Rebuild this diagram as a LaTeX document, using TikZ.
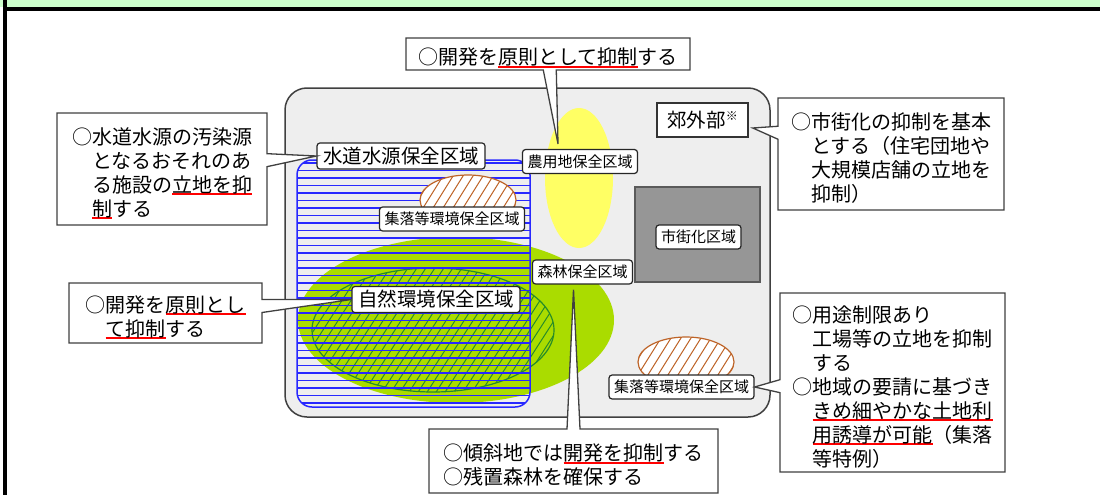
\documentclass[tikz,border=0pt]{standalone}
\usepackage{fontspec}
\setmainfont{Noto Sans CJK JP}
\usetikzlibrary{shapes.callouts, calc}
\definecolor{bandgreen}{RGB}{204,255,204}
\definecolor{areagray}{RGB}{238,238,238}
\definecolor{areaborder}{RGB}{64,64,64}
\definecolor{forestgreen}{RGB}{170,220,0}
\definecolor{naturegreen}{RGB}{40,140,40}
\definecolor{waterblue}{RGB}{40,40,255}
\definecolor{farmyellow}{RGB}{255,255,100}
\definecolor{villagebrown}{RGB}{190,100,40}
\definecolor{citygray}{RGB}{150,150,150}
\definecolor{cityborder}{RGB}{90,90,90}
\newcommand\bigjp{\fontsize{19.5}{24}\selectfont}
\newcommand\smalljp{\fontsize{15}{18}\selectfont}
\newcommand\notejp{\fontsize{20}{24}\selectfont}
\newsavebox\ulbox
\newcommand\redline[1]{\sbox\ulbox{#1}\rlap{\color{red}\rule[-3pt]{\wd\ulbox}{2pt}}\usebox\ulbox}
\newcommand\notestrut{\rule{0pt}{25pt}}
\tikzset{
  zone/.style={draw=black!85, fill=white, rounded corners=3pt, line width=1.2pt},
  bigzone/.style={zone, font=\bigjp, inner xsep=6pt, inner ysep=4pt},
  smallzone/.style={zone, font=\smalljp, inner xsep=5pt, inner ysep=5pt},
  note/.style={rectangle callout, draw=black!75, fill=white, line width=1.3pt,
    callout pointer width=13pt, align=left, font=\notejp, inner sep=0pt},
}
\begin{document}
\begin{tikzpicture}[x=1pt, y=-1pt]
    \useasboundingbox (0,0) rectangle (1100,495);
    % frame
    \fill[bandgreen] (0,0) rectangle (1100,7);
    \draw[line width=4pt] (3,9) -- (1100,9);
    \draw[line width=4pt] (5,0) -- (5,495);
    
    % suburb area
    \draw[areaborder, fill=areagray, line width=1.5pt, rounded corners=22pt] (285,88) rectangle (770,417);
    
    % forest and nature zones
    \fill[forestgreen] (456,320) ellipse (158 and 83);
    \begin{scope}
        \clip (433,330) ellipse (121 and 62);
        \foreach \hx in {-200,-191,...,200}
            \draw[naturegreen, line width=1pt] (433+\hx-45,400) -- ++(90,-140);
    \end{scope}
    \draw[naturegreen, line width=1.2pt] (433,330) ellipse (121 and 62);
    
    % water source zone
    \begin{scope}
        \clip[rounded corners=15pt] (297,160) rectangle (530,407);
        \foreach \yy in {163,170.5,...,407}
            \draw[waterblue, line width=1.1pt] (297,\yy) -- (530,\yy);
    \end{scope}
    \draw[waterblue, line width=1.5pt, rounded corners=15pt] (297,160) rectangle (530,407);
    
    % village zones
    \foreach \cx/\cy in {468/200, 686/362} {
        \fill[white] (\cx,\cy) ellipse (48 and 25);
        \begin{scope}
            \clip (\cx,\cy) ellipse (48 and 25);
            \foreach \hx in {-100,-90,...,100}
                \draw[villagebrown, line width=1pt] (\cx+\hx-25,\cy+40) -- ++(50,-80);
        \end{scope}
        \draw[villagebrown, line width=1.2pt] (\cx,\cy) ellipse (48 and 25);
    }
    
    % farm zone and city
    \fill[farmyellow] (579,178) ellipse (34 and 70);
    \draw[cityborder, fill=citygray, line width=1.5pt] (635,187) rectangle (760,282);
    
    % labels
    \node[bigzone] (water) at (401,156) {水道水源保全区域};
    \node[smallzone] (farm) at (580,161.5) {農用地保全区域};
    \node[draw=black!80, fill=white, line width=1.5pt, font=\bigjp, minimum width=91pt, minimum height=34pt]
        (suburb) at (702.5,120) {郊外部\raisebox{7pt}{\fontsize{12}{12}\selectfont ※}};
    \node[smallzone] (village1) at (452,219) {集落等環境保全区域};
    \node[smallzone] (city) at (698.5,237) {市街化区域};
    \node[smallzone] (forest) at (582.5,272) {森林保全区域};
    \node[bigzone] (nature) at (436,299.5) {自然環境保全区域};
    \node[smallzone] (village2) at (681.5,387) {集落等環境保全区域};
    
    % notes
    \coordinate (farmtip) at ($(farm.north)+(-22,-5)$);
    \coordinate (suburbtip) at ($(suburb.east)+(4,8)$);
    \coordinate (foresttip) at ($(forest.south)+(-9,5)$);
    \node[note, minimum width=284pt, minimum height=32pt, callout absolute pointer={(farmtip)}]
        (farmnote) at (548,54) {\notestrut○開発を\redline{原則として抑制}する};
    \node[note, minimum width=210pt, minimum height=112pt, callout absolute pointer={(water.west)}]
        (waternote) at (162,169) {\notestrut○水道水源の汚染源\\\phantom{○}となるおそれのあ\\\phantom{○}る施設の\redline{立地を抑}\\\phantom{○}\redline{制}する};
    \node[note, minimum width=193pt, minimum height=60pt, callout absolute pointer={(nature.west)}]
        (naturenote) at (165.5,313) {\notestrut○開発を\redline{原則とし}\\\phantom{○}\redline{て抑制}する};
    \node[note, minimum width=226pt, minimum height=112pt, callout absolute pointer={(suburbtip)}]
        (suburbnote) at (891,154) {\notestrut○市街化の抑制を基本\\\phantom{○}とする（住宅団地や\\\phantom{○}大規模店舗の立地を\\\phantom{○}抑制）};
    \node[note, minimum width=225pt, minimum height=179pt, callout absolute pointer={(village2.east)}]
        (villagenote) at (892.5,382.5) {\notestrut○用途制限あり\\\phantom{○}工場等の立地を抑制\\\phantom{○}する\\○地域の要請に基づき\\\phantom{○}\redline{きめ細やかな土地利}\\\phantom{○}\redline{用誘導が可能}（集落\\\phantom{○}等特例）};
    \node[note, minimum width=289pt, minimum height=64pt, callout absolute pointer={(foresttip)}]
        (forestnote) at (573.5,461) {\notestrut○傾斜地では\redline{開発を抑制}する\\○残置森林を確保する};
\end{tikzpicture}
\end{document}
